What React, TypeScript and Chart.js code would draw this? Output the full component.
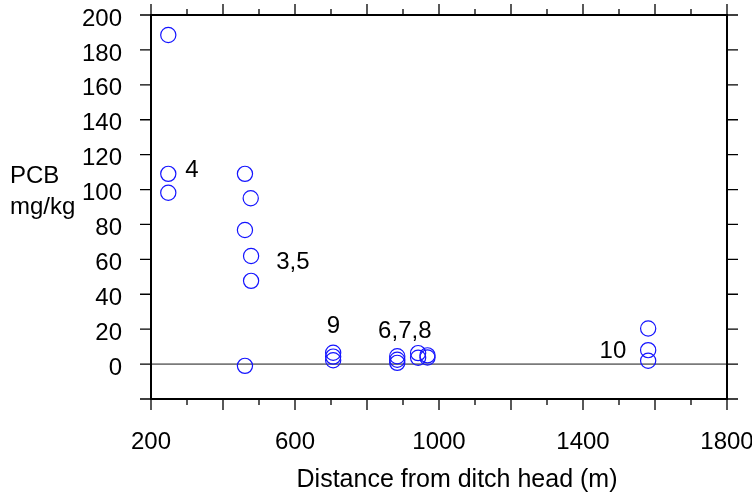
import { useEffect, useRef } from "react";
import { Chart, registerables } from "chart.js";

Chart.register(...registerables);

const FONT = "'Liberation Sans', Arial, Helvetica, sans-serif";

// Sample distances (m) and PCB concentrations (mg/kg)
const distanceM = [248, 248, 248, 461, 477, 461, 478, 478, 461, 706, 706, 706, 884, 884, 884, 942, 942, 968, 968, 1581, 1581, 1581];
const pcbMgKg = [188.5, 109, 98.2, 109, 95, 76.8, 61.9, 47.7, -1, 6.5, 4.3, 2.2, 4.5, 2.5, 0.7, 6.3, 3.6, 5, 3.8, 20.4, 8, 1.9];

// Group annotations
const groupLabels = ["4", "3,5", "9", "6,7,8", "10"];
const groupLabelX = [314, 594, 707, 905, 1483];
const groupLabelY = [111, 58, 21.5, 19, 7.4];

// Tick labels
const xTickLabels = [200, 600, 1000, 1400, 1800];
const yTickLabels = [0, 20, 40, 60, 80, 100, 120, 140, 160, 180, 200];

const xTitle = "Distance from ditch head (m)";
const yTitleLines = ["PCB", "mg/kg"];

const framePlugin = {
  id: "frame",
  beforeDatasetsDraw(chart: any) {
    const { ctx, chartArea: a, scales } = chart;
    const x = scales.x;
    const y = scales.y;
    ctx.save();
    const y0 = y.getPixelForValue(0);
    ctx.strokeStyle = "#7a7a7a";
    ctx.lineWidth = 1.6;
    ctx.beginPath();
    ctx.moveTo(a.left, y0);
    ctx.lineTo(a.right, y0);
    ctx.stroke();

    ctx.strokeStyle = "#000";
    ctx.lineWidth = 1.3;
    ctx.beginPath();
    for (const t of y.ticks) {
      const p = y.getPixelForValue(t.value);
      ctx.moveTo(a.left - 11, p);
      ctx.lineTo(a.left, p);
      ctx.moveTo(a.right, p);
      ctx.lineTo(a.right + 11, p);
    }
    for (const t of x.ticks) {
      const p = x.getPixelForValue(t.value);
      const len = t.value % 200 === 0 ? 11 : 6;
      ctx.moveTo(p, a.bottom);
      ctx.lineTo(p, a.bottom + len);
      ctx.moveTo(p, a.top);
      ctx.lineTo(p, a.top - len);
    }
    ctx.stroke();

    ctx.lineWidth = 2;
    ctx.strokeRect(a.left, a.top, a.right - a.left, a.bottom - a.top);
    ctx.restore();
  },
  afterDraw(chart: any) {
    const { ctx, scales } = chart;
    const x = scales.x;
    const y = scales.y;
    ctx.save();
    ctx.fillStyle = "#000";
    ctx.font = `24px ${FONT}`;
    ctx.textAlign = "center";
    ctx.textBaseline = "middle";
    groupLabels.forEach((lab, i) => {
      ctx.fillText(lab, x.getPixelForValue(groupLabelX[i]), y.getPixelForValue(groupLabelY[i]));
    });

    ctx.textBaseline = "alphabetic";
    ctx.font = `25px ${FONT}`;
    ctx.fillText(xTitle, 457, 487);

    ctx.textAlign = "left";
    ctx.font = `24px ${FONT}`;
    ctx.fillText(yTitleLines[0], 10, 183);
    ctx.fillText(yTitleLines[1], 10, 214);
    ctx.restore();
  },
};

export default function App() {
  const ref = useRef<HTMLCanvasElement | null>(null);

  useEffect(() => {
    document.body.style.margin = "0";
    const canvas = ref.current;
    if (!canvas) return;
    const chart = new Chart(canvas, {
      type: "scatter",
      data: {
        datasets: [
          {
            data: distanceM.map((d, i) => ({ x: d, y: pcbMgKg[i] })),
            pointStyle: "circle",
            pointRadius: 7.6,
            pointHoverRadius: 7.6,
            pointBorderWidth: 1.2,
            borderColor: "rgb(20,20,255)",
            backgroundColor: "rgba(0,0,0,0)",
            showLine: false,
          },
        ],
      },
      options: {
        animation: false,
        responsive: false,
        devicePixelRatio: 1,
        layout: { padding: 0 },
        plugins: {
          legend: { display: false },
          tooltip: { enabled: false },
        },
        scales: {
          x: {
            type: "linear",
            min: 200,
            max: 1800,
            afterFit: (s: any) => {
              s.height = 93;
              s.paddingLeft = 0;
              s.paddingRight = 25;
            },
            grid: { display: false, drawTicks: true, tickLength: 11 },
            border: { display: false },
            ticks: {
              stepSize: 100,
              autoSkip: false,
              maxRotation: 0,
              padding: 18,
              color: "#000",
              font: { family: FONT, size: 24 },
              callback: (v: any) => (xTickLabels.includes(Number(v)) ? String(v) : ""),
            },
          },
          y: {
            type: "linear",
            min: -20,
            max: 200,
            afterFit: (s: any) => {
              s.width = 151;
              s.paddingTop = 15;
              s.paddingBottom = 0;
            },
            grid: { display: false, drawTicks: true, tickLength: 11 },
            border: { display: false },
            ticks: {
              stepSize: 20,
              autoSkip: false,
              padding: 18,
              labelOffset: 4,
              color: "#000",
              font: { family: FONT, size: 24 },
              callback: (v: any) => (yTickLabels.includes(Number(v)) ? String(v) : ""),
            },
          },
        },
      },
      plugins: [framePlugin],
    });
    return () => chart.destroy();
  }, []);

  return (
    <div style={{ width: 752, height: 492 }}>
      <canvas ref={ref} width={752} height={492} />
    </div>
  );
}
